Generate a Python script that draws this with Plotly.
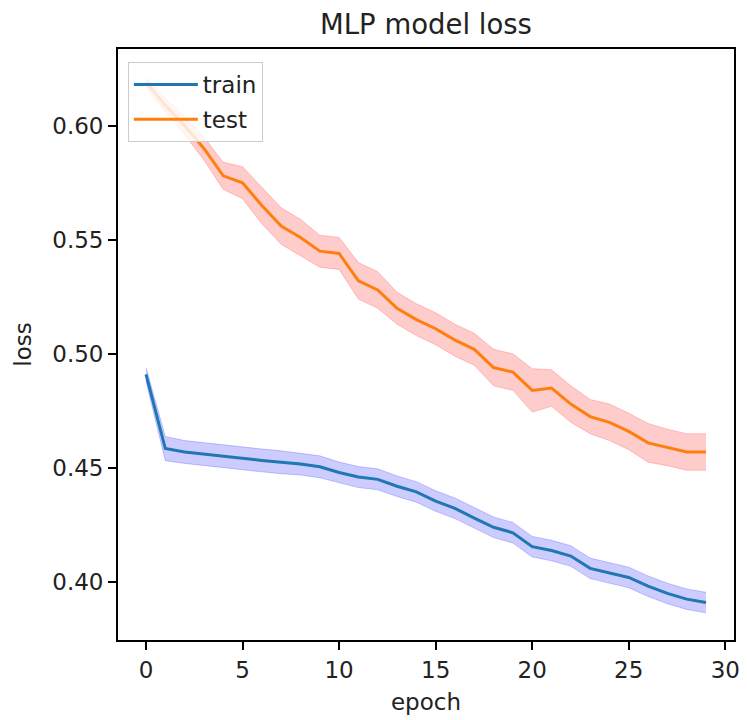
import plotly.graph_objects as go

# Per-epoch loss (mean) and spread for the MLP runs
epochs = list(range(30))

train_loss = [0.491, 0.4585, 0.457, 0.456, 0.455, 0.454, 0.4533, 0.4525, 0.4517, 0.4505,
              0.448, 0.446, 0.445, 0.442, 0.4395, 0.4355, 0.4323, 0.428, 0.424, 0.4216,
              0.4155, 0.4138, 0.4114, 0.406, 0.4041, 0.402, 0.3982, 0.395, 0.3925, 0.391]
train_std = [0.003, 0.0053, 0.005, 0.005, 0.005, 0.005, 0.005, 0.005, 0.0048, 0.0048,
             0.0046, 0.0046, 0.0046, 0.0045, 0.0045, 0.0045, 0.0045, 0.0045, 0.0045, 0.0045,
             0.0045, 0.0045, 0.0045, 0.0045, 0.0045, 0.0045, 0.0045, 0.0045, 0.0045, 0.0045]

test_loss = [0.619, 0.609, 0.600, 0.590, 0.578, 0.575, 0.565, 0.556, 0.551, 0.545,
             0.544, 0.532, 0.528, 0.520, 0.515, 0.511, 0.506, 0.502, 0.494, 0.492,
             0.484, 0.485, 0.478, 0.4725, 0.470, 0.466, 0.461, 0.459, 0.457, 0.457]
test_std = [0.002, 0.003, 0.004, 0.005, 0.006, 0.007, 0.008, 0.008, 0.008, 0.007,
            0.007, 0.008, 0.008, 0.007, 0.007, 0.007, 0.007, 0.007, 0.008, 0.008,
            0.0095, 0.008, 0.008, 0.0075, 0.008, 0.008, 0.0085, 0.008, 0.008, 0.008]

x_ticks = [0, 5, 10, 15, 20, 25, 30]
y_ticks = [0.40, 0.45, 0.50, 0.55, 0.60]

FONT = "DejaVu Sans"
TEXT = "#222222"

fig = go.Figure()


def add_band(mean, std, fill):
    lower = [m - s for m, s in zip(mean, std)]
    upper = [m + s for m, s in zip(mean, std)]
    fig.add_trace(go.Scatter(x=epochs, y=lower, mode="lines", line=dict(width=1, color=fill),
                             showlegend=False, hoverinfo="skip"))
    fig.add_trace(go.Scatter(x=epochs, y=upper, mode="lines", line=dict(width=1, color=fill),
                             fill="tonexty", fillcolor=fill, showlegend=False, hoverinfo="skip"))


add_band(train_loss, train_std, "rgba(0,0,255,0.2)")
add_band(test_loss, test_std, "rgba(255,0,0,0.2)")

fig.add_trace(go.Scatter(x=epochs, y=train_loss, mode="lines", name="train",
                         line=dict(color="#1f77b4", width=3), legendgroup="train"))
fig.add_trace(go.Scatter(x=epochs, y=test_loss, mode="lines", name="test",
                         line=dict(color="#ff7f0e", width=3), legendgroup="test"))

axis_common = dict(
    showline=True, linecolor="black", linewidth=1.8, mirror=True,
    ticks="outside", ticklen=8, tickwidth=1.8, tickcolor="black",
    showgrid=False, zeroline=False,
    tickfont=dict(family=FONT, size=23, color=TEXT),
)

fig.update_layout(
    width=747, height=720,
    margin=dict(l=118, r=7, t=49, b=80),
    paper_bgcolor="white", plot_bgcolor="white",
    title=dict(text="MLP model loss", x=0.5, xref="paper", xanchor="center",
               y=1 - 24 / 720, yanchor="middle",
               font=dict(family=FONT, size=27.5, color=TEXT)),
    xaxis=dict(range=[-1.45, 30.45], tickvals=x_ticks,
               title=dict(text="epoch", font=dict(family=FONT, size=23, color=TEXT), standoff=12),
               **axis_common),
    yaxis=dict(range=[0.3746, 0.6336], tickvals=y_ticks, tickformat=".2f",
               title=dict(text="loss", font=dict(family=FONT, size=23, color=TEXT), standoff=14),
               **axis_common),
    legend=dict(x=0.016, y=0.978, xanchor="left", yanchor="top",
                bgcolor="rgba(255,255,255,0.8)", bordercolor="#cccccc", borderwidth=1,
                font=dict(family=FONT, size=23, color=TEXT),
                itemwidth=64, tracegroupgap=2),
    showlegend=True,
)

fig.write_html("out.html")
